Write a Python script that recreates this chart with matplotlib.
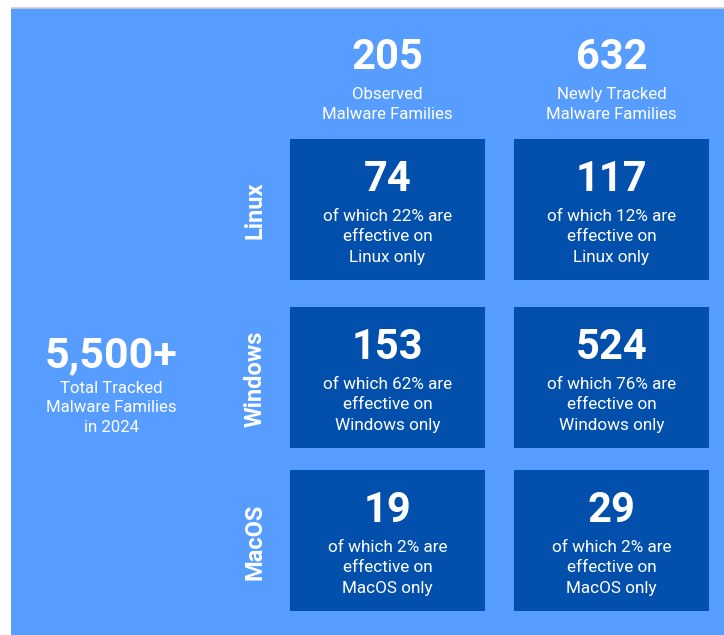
import matplotlib
matplotlib.use("Agg")
import matplotlib.pyplot as plt
from matplotlib.patches import Rectangle

# ---- data ----
total_value = "5,500+"
total_label = "Total Tracked\nMalware Families\nin 2024"
column_values = ["205", "632"]
column_labels = ["Observed\nMalware Families", "Newly Tracked\nMalware Families"]
os_names = ["Linux", "Windows", "MacOS"]
cell_counts = [[74, 117], [153, 524], [19, 29]]      # rows: OS, cols: observed/new
cell_percents = [[22, 12], [62, 76], [2, 2]]

# ---- style ----
BG = "#579DFF"
BOX = "#0250AC"
FONT = ["Roboto", "DejaVu Sans"]

W, H = 724, 635
fig = plt.figure(figsize=(W / 100, H / 100), dpi=100)
ax = fig.add_axes([0, 0, 1, 1])
ax.set_xlim(0, W)
ax.set_ylim(H, 0)
ax.axis("off")

# background panel
ax.add_patch(Rectangle((11, 8), W - 11, H - 8, color=BG, lw=0, zorder=0))
ax.plot([11, W], [7.5, 7.5], color="#cfcfcf", lw=1.2, zorder=1, solid_capstyle="butt")

col_left = [290, 514]
box_w = 195
row_top = [139, 307, 470]
box_h = 141
col_center = [l + box_w / 2 for l in col_left]

# column headers
for c in range(2):
    ax.text(col_center[c], 69, column_values[c], ha="center", va="baseline",
            color="white", fontsize=30, fontweight="bold", family=FONT)
    for i, line in enumerate(column_labels[c].split("\n")):
        ax.text(col_center[c], 99 + 20 * i, line, ha="center", va="baseline",
                color="white", fontsize=12.1, family=FONT)

# total on the left
ax.text(111, 367, total_value, ha="center", va="baseline",
        color="white", fontsize=31, fontweight="bold", family=FONT)
for i, line in enumerate(total_label.split("\n")):
    ax.text(111, 393 + 19.5 * i, line, ha="center", va="baseline",
            color="white", fontsize=12.1, family=FONT)

# rows
for r, osn in enumerate(os_names):
    top = row_top[r]
    ax.text(255, top + box_h / 2 + 1, osn, ha="center", va="center", rotation=90,
            color="white", fontsize=17, fontweight="bold", family=FONT)
    for c in range(2):
        ax.add_patch(Rectangle((col_left[c], top), box_w, box_h, color=BOX, lw=0, zorder=1))
        cx = col_center[c]
        ax.text(cx, top + 52, str(cell_counts[r][c]), ha="center", va="baseline",
                color="white", fontsize=30, fontweight="bold", family=FONT, zorder=2)
        lines = [f"of which {cell_percents[r][c]}% are", "effective on", f"{osn} only"]
        for i, line in enumerate(lines):
            ax.text(cx, top + 82 + 20.3 * i, line, ha="center", va="baseline",
                    color="white", fontsize=12.3, family=FONT, zorder=2)

fig.savefig("out.png", dpi=100, facecolor="white")
